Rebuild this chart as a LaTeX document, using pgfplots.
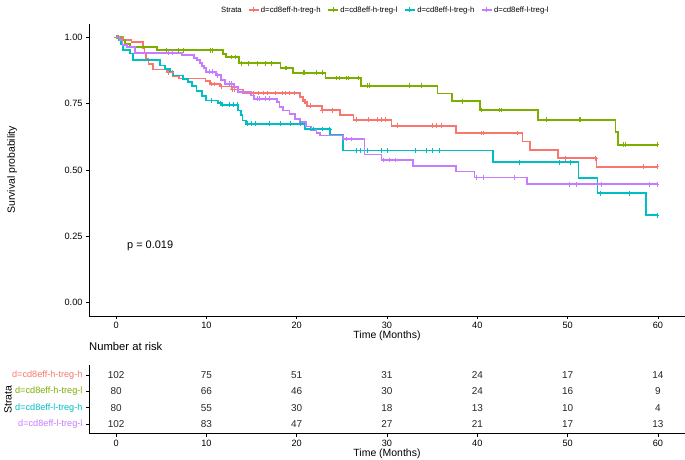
\documentclass[border=0pt]{standalone}
\usepackage{pgfplots}
\pgfplotsset{compat=1.18}
\usepackage{fontspec}
\setmainfont{Liberation Sans}
\definecolor{cR}{HTML}{F8766D}
\definecolor{cG}{HTML}{7CAE00}
\definecolor{cC}{HTML}{00BFC4}
\definecolor{cP}{HTML}{C77CFF}
\begin{document}
\begin{tikzpicture}
\useasboundingbox (0,0) rectangle (685bp,460bp);
\node[anchor=west,inner sep=0pt,font=\fontsize{7.7}{9}\selectfont] at (221bp,450bp) {Strata};
\begin{axis}[
  at={(89bp,144bp)}, anchor=south west, scale only axis,
  width=596bp, height=292.3bp,
  xmin=-3, xmax=63, ymin=-0.05, ymax=1.05,
  axis lines=left, axis line style={-, line width=0.6bp, black},
  xtick={0,10,...,60}, ytick={0,0.25,0.5,0.75,1},
  yticklabels={0.00,0.25,0.50,0.75,1.00},
  /pgf/number format/assume math mode=true,
  tick align=outside, major tick length=3bp,
  tick style={black, line width=0.5bp},
  ticklabel style={font=\fontsize{9.2}{10}\selectfont, color=black},
  xlabel={Time (Months)}, ylabel={Survival probability},
  label style={font=\fontsize{10.5}{12}\selectfont},
  xlabel style={at={(axis description cs:0.5,-0.068)}, anchor=center},
  ylabel style={at={(axis description cs:-0.129,0.5)}, anchor=center},
  legend columns=4,
  legend style={at={(axis description cs:0.2663,1.047)}, anchor=west, draw=none, fill=none,
    inner sep=0pt, font=\fontsize{7.8}{9}\selectfont,
    /tikz/every even column/.append style={column sep=5bp},
    nodes={inner sep=1.8bp}},
  legend image code/.code={\draw[#1, line width=1.2bp] (0bp,0bp) -- (10bp,0bp); \draw[#1, line width=0.8bp] (5bp,-2.5bp) -- (5bp,2.5bp);},
  every axis plot/.append style={line join=miter, line cap=butt},
]
% curves
\addplot[cR, const plot, line width=1.8bp] coordinates {(0,1) (0.8,0.990) (1.7,0.980) (2.95,0.960) (3.15,0.940) (3.3,0.918) (3.6,0.898) (4.1,0.878) (5.6,0.866) (6.3,0.853) (7.0,0.844) (9.9,0.833) (10.4,0.823) (11.5,0.814) (12.8,0.802) (14.1,0.789) (20.4,0.775) (20.7,0.757) (21.1,0.741) (22.8,0.724) (24.8,0.707) (26.3,0.688) (30.5,0.666) (37.6,0.639) (45.0,0.607) (45.8,0.576) (48.9,0.544) (53.2,0.512) (60,0.512)};
\addlegendentry{d=cd8eff-h-treg-h}
\addplot[cG, const plot, line width=1.8bp] coordinates {(0,1) (0.5,0.9875) (1.0,0.975) (1.5,0.9625) (4.5,0.950) (11.8,0.937) (12.2,0.925) (13.6,0.901) (18.2,0.883) (19.6,0.865) (23.2,0.846) (27.1,0.817) (35.6,0.787) (37.2,0.758) (40.3,0.725) (46.7,0.688) (55.3,0.641) (55.6,0.594) (60,0.594)};
\addlegendentry{d=cd8eff-h-treg-l}
\addplot[cC, const plot, line width=1.8bp] coordinates {(0,1) (0.3,0.9875) (0.5,0.975) (0.7,0.9625) (0.8,0.950) (1.5,0.9375) (1.9,0.912) (4.9,0.893) (5.4,0.880) (6.0,0.867) (6.3,0.855) (7.4,0.842) (8.0,0.830) (8.4,0.817) (8.9,0.798) (9.5,0.779) (10.0,0.761) (11.3,0.751) (11.6,0.745) (13.5,0.723) (13.8,0.705) (14.0,0.686) (14.4,0.673) (20.9,0.654) (23.7,0.631) (25.1,0.573) (41.7,0.529) (51.2,0.469) (53.3,0.412) (58.7,0.329) (60,0.329)};
\addlegendentry{d=cd8eff-l-treg-h}
\addplot[cP, const plot, line width=1.8bp] coordinates {(0,1) (0.4,0.990) (0.7,0.971) (1.2,0.961) (2.1,0.941) (7.3,0.932) (8.6,0.922) (9.0,0.912) (9.3,0.902) (9.5,0.892) (9.7,0.882) (10.0,0.869) (11.1,0.856) (11.6,0.837) (12.1,0.824) (13.1,0.812) (13.5,0.793) (14.9,0.780) (15.3,0.768) (17.8,0.755) (18.1,0.736) (18.5,0.723) (19.2,0.711) (19.8,0.692) (20.4,0.679) (21.0,0.663) (21.6,0.650) (22.2,0.640) (22.6,0.629) (25.1,0.616) (27.5,0.558) (29.4,0.537) (32.9,0.515) (37.6,0.494) (39.7,0.471) (45.5,0.446) (60,0.446)};
\addlegendentry{d=cd8eff-l-treg-l}
% censor marks
\addplot[cR, only marks, mark=+, mark size=2.4bp, line width=0.8bp, forget plot] coordinates {(0.1,1) (5.8,0.866) (6.2,0.866) (10.6,0.823) (10.9,0.823) (11.7,0.814) (12.9,0.802) (13.1,0.802) (15.2,0.789) (15.8,0.789) (16.3,0.789) (16.8,0.789) (17.6,0.789) (18.4,0.789) (18.8,0.789) (19.2,0.789) (19.8,0.789) (20.8,0.757) (21.0,0.757) (21.5,0.741) (22.9,0.724) (23.9,0.724) (26.6,0.688) (27.9,0.688) (28.9,0.688) (29.4,0.688) (29.8,0.688) (31.1,0.666) (35.0,0.666) (35.5,0.666) (36.0,0.666) (40.4,0.639) (40.7,0.639) (44.4,0.639) (49.8,0.544) (53.1,0.544) (58.4,0.512) (59.9,0.512)};
\addplot[cG, only marks, mark=+, mark size=2.4bp, line width=0.8bp, forget plot] coordinates {(0,1) (0.3,1) (5.6,0.95) (6.9,0.95) (7.4,0.95) (10.4,0.95) (10.7,0.95) (12.8,0.925) (13.2,0.925) (13.9,0.901) (14.6,0.901) (15.6,0.901) (16.5,0.901) (17.2,0.901) (18.7,0.883) (18.9,0.883) (20.7,0.865) (20.9,0.865) (22.2,0.865) (22.9,0.865) (24.4,0.846) (24.7,0.846) (25.5,0.846) (25.7,0.846) (26.8,0.846) (27.8,0.817) (28.1,0.817) (32.5,0.817) (33.8,0.817) (38.3,0.758) (40.5,0.725) (42.5,0.725) (42.7,0.725) (47.6,0.688) (51.3,0.688) (51.4,0.688) (56.2,0.594) (56.4,0.594) (59.9,0.594)};
\addplot[cC, only marks, mark=+, mark size=2.4bp, line width=0.8bp, forget plot] coordinates {(0.1,1) (10.6,0.761) (11.5,0.751) (11.8,0.745) (12.6,0.745) (13.0,0.745) (13.4,0.745) (14.5,0.673) (15.0,0.673) (15.4,0.673) (17.0,0.673) (18.2,0.673) (19.3,0.673) (20.4,0.673) (21.5,0.654) (21.8,0.654) (22.8,0.654) (23.6,0.654) (26.6,0.573) (27.1,0.573) (27.8,0.573) (29.4,0.573) (30.0,0.573) (33.1,0.573) (34.4,0.573) (35.0,0.573) (35.8,0.573) (44.7,0.529) (49.1,0.529) (50.3,0.529) (53.6,0.412) (56.8,0.412) (59.9,0.329)};
\addplot[cP, only marks, mark=+, mark size=2.4bp, line width=0.8bp, forget plot] coordinates {(0.2,1) (5.8,0.941) (6.2,0.941) (10.3,0.869) (10.7,0.869) (11.2,0.856) (12.6,0.824) (12.8,0.824) (14.0,0.793) (15.6,0.768) (15.9,0.768) (16.5,0.768) (17.0,0.768) (25.5,0.616) (26.1,0.616) (29.6,0.537) (30.3,0.537) (30.9,0.537) (39.9,0.471) (40.7,0.471) (44.1,0.471) (50.2,0.446) (51.0,0.446) (53.7,0.446) (59.1,0.446) (59.9,0.446)};
\node[anchor=west, inner sep=0pt, font=\fontsize{11}{13}\selectfont] at (axis cs:1.2,0.213) {p = 0.019};
\end{axis}
% risk table
\begin{axis}[
  at={(89bp,26.2bp)}, anchor=south west, scale only axis,
  width=596bp, height=68.6bp,
  xmin=-3, xmax=63, ymin=0.4, ymax=4.6,
  axis lines=left, axis line style={-, line width=0.6bp, black},
  xtick={0,10,...,60}, ytick={1,2,3,4},
  yticklabels={\textcolor{cP}{d=cd8eff-l-treg-l},\textcolor{cC}{d=cd8eff-l-treg-h},\textcolor{cG}{d=cd8eff-h-treg-l},\textcolor{cR}{d=cd8eff-h-treg-h}},
  /pgf/number format/assume math mode=true,
  tick align=outside, major tick length=3bp,
  tick style={black, line width=0.5bp},
  ticklabel style={font=\fontsize{9.2}{10}\selectfont},
  xticklabel style={color=black},
  xlabel={Time (Months)}, ylabel={Strata},
  label style={font=\fontsize{10.5}{12}\selectfont},
  xlabel style={at={(axis description cs:0.5,-0.29)}, anchor=center},
  ylabel style={at={(axis description cs:-0.136,0.5)}, anchor=center},
  title={Number at risk},
  title style={at={(axis description cs:0,1.19)}, anchor=west, inner sep=0pt, font=\fontsize{11.3}{13}\selectfont},
  every node near coord/.style={font=\fontsize{10}{11}\selectfont, text=black!85, anchor=center},
]
\addplot[draw=none, nodes near coords, point meta=explicit symbolic] coordinates {(0,4)[102] (10,4)[75] (20,4)[51] (30,4)[31] (40,4)[24] (50,4)[17] (60,4)[14]};
\addplot[draw=none, nodes near coords, point meta=explicit symbolic] coordinates {(0,3)[80] (10,3)[66] (20,3)[46] (30,3)[30] (40,3)[24] (50,3)[16] (60,3)[9]};
\addplot[draw=none, nodes near coords, point meta=explicit symbolic] coordinates {(0,2)[80] (10,2)[55] (20,2)[30] (30,2)[18] (40,2)[13] (50,2)[10] (60,2)[4]};
\addplot[draw=none, nodes near coords, point meta=explicit symbolic] coordinates {(0,1)[102] (10,1)[83] (20,1)[47] (30,1)[27] (40,1)[21] (50,1)[17] (60,1)[13]};
\end{axis}
\end{tikzpicture}
\end{document}
